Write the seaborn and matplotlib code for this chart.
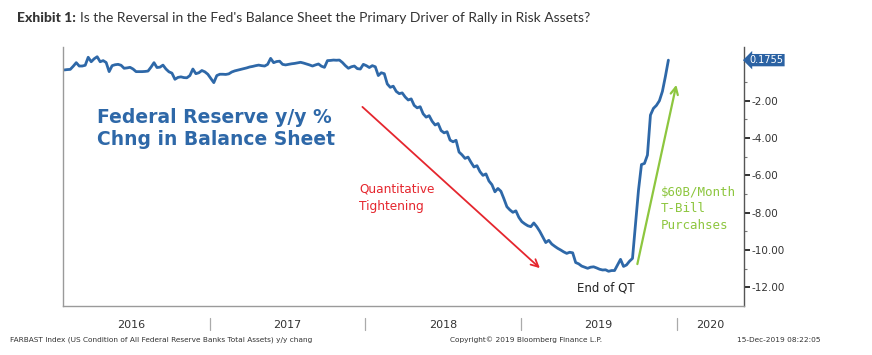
import numpy as np
import pandas as pd
import matplotlib
matplotlib.use("Agg")
import matplotlib.pyplot as plt
import matplotlib.dates as mdates
import matplotlib.transforms as mtransforms
import seaborn as sns

# ---------------- data ----------------
start_date = "2016-01-27"   # weekly (Wednesday) observations
yoy_change = [
    -0.35, -0.33, -0.32, -0.15, 0.04, -0.14, -0.14, -0.10, 0.33, 0.09,
    0.25, 0.36, 0.09, 0.15, 0.05, -0.44, -0.12, -0.07, -0.05, -0.10,
    -0.26, -0.24, -0.21, -0.30, -0.44, -0.44, -0.44, -0.43, -0.41, -0.20,
    0.04, -0.22, -0.20, -0.09, -0.30, -0.45, -0.52, -0.85, -0.75, -0.72,
    -0.76, -0.77, -0.65, -0.30, -0.55, -0.50, -0.38, -0.45, -0.58, -0.80,
    -1.03, -0.65, -0.58, -0.58, -0.59, -0.56, -0.46, -0.40, -0.36, -0.32,
    -0.28, -0.24, -0.19, -0.16, -0.12, -0.09, -0.12, -0.14, -0.05, 0.27,
    0.04, 0.10, 0.12, -0.05, -0.08, -0.05, -0.02, 0.00, 0.03, 0.06,
    0.02, -0.03, -0.08, -0.14, -0.08, -0.03, -0.15, -0.21, 0.15, 0.16,
    0.18, 0.17, 0.18, 0.05, -0.12, -0.26, -0.18, -0.14, -0.28, -0.30,
    -0.05, -0.12, -0.22, -0.12, -0.18, -0.65, -0.50, -0.55, -1.10, -1.28,
    -1.22, -1.50, -1.62, -1.58, -1.80, -1.96, -1.90, -2.25, -2.38, -2.32,
    -2.70, -2.88, -2.80, -3.10, -3.30, -3.22, -3.60, -3.72, -3.66, -4.11,
    -4.20, -4.12, -4.75, -4.90, -5.09, -5.02, -5.30, -5.55, -5.48, -5.80,
    -6.00, -5.92, -6.30, -6.50, -6.88, -6.70, -6.85, -7.25, -7.68, -7.85,
    -7.98, -7.90, -8.25, -8.48, -8.60, -8.70, -8.75, -8.55, -8.75, -9.00,
    -9.30, -9.60, -9.48, -9.68, -9.80, -9.91, -10.00, -10.10, -10.18, -10.12,
    -10.15, -10.67, -10.74, -10.86, -10.92, -10.98, -10.92, -10.90, -10.96, -11.03,
    -11.07, -11.06, -11.14, -11.10, -11.10, -10.80, -10.50, -10.88, -10.80, -10.60,
    -10.45, -8.60, -6.80, -5.42, -5.36, -4.91, -2.77, -2.41, -2.25, -2.00,
    -1.50, -0.70, 0.1755,
]
last_value = 0.1755
year_labels = ["2016", "2017", "2018", "2019", "2020"]
y_ticks = [-2, -4, -6, -8, -10, -12]
y_minor_ticks = [-1, -3, -5, -7, -9, -11]

dates = pd.date_range(start_date, periods=len(yoy_change), freq="7D")
df = pd.DataFrame({"date": dates, "yoy": yoy_change})

# ---------------- style ----------------
sns.set_style("white")
plt.rcParams["font.family"] = ["DejaVu Sans"]

BLUE = "#2e68a8"
RED = "#e5262e"
GREEN = "#8dc63f"
W, H = 872, 355

fig = plt.figure(figsize=(W / 100, H / 100), dpi=100)
ax = fig.add_axes([63 / W, 1 - 306 / H, (744 - 63) / W, (306 - 47) / H])

sns.lineplot(data=df, x="date", y="yoy", ax=ax, color=BLUE, linewidth=2.0)

ax.set_xlim(pd.Timestamp("2016-01-24"), pd.Timestamp("2020-06-05"))
ax.set_ylim(-13.0, 0.88)
ax.set_xlabel("")
ax.set_ylabel("")

# spines
ax.spines["top"].set_visible(False)
for s in ["left", "bottom"]:
    ax.spines[s].set_color("#9a9a9a")
    ax.spines[s].set_linewidth(1.0)
ax.spines["right"].set_color("#555555")
ax.spines["right"].set_linewidth(1.0)

# y axis on right
ax.yaxis.tick_right()
ax.set_yticks(y_ticks)
ax.set_yticklabels([f"{t:.2f}" for t in y_ticks])
ax.set_yticks(y_minor_ticks, minor=True)
ax.tick_params(axis="y", which="major", direction="out", length=4, width=1.3,
               color="#222222", labelsize=7.5, labelcolor="#333333", pad=1.5)
ax.tick_params(axis="y", which="minor", direction="out", length=2, width=0.8,
               color="#777777")
ax.tick_params(axis="y", left=False, which="both")

# x axis: monthly small ticks, no labels
ax.xaxis.set_major_locator(mdates.MonthLocator())
ax.tick_params(axis="x", which="major", direction="out", length=2.5, width=0.8,
               color="#888888", labelbottom=False)

trans = mtransforms.blended_transform_factory(ax.transData, ax.transAxes)
for yl in year_labels[1:]:
    d = mdates.date2num(pd.Timestamp(f"{yl}-01-01"))
    ax.plot([d, d], [-0.046, -0.093], transform=trans, clip_on=False,
            color="#aaaaaa", lw=0.9)
xmax = ax.get_xlim()[1]
for yl in year_labels:
    if yl == year_labels[-1]:
        xc = (mdates.date2num(pd.Timestamp(f"{yl}-01-01")) + xmax) / 2
    else:
        xc = mdates.date2num(pd.Timestamp(f"{yl}-07-01"))
    ax.text(xc, -0.072, yl, transform=trans, ha="center", va="center",
            fontsize=8, color="#333333")

# last value tag
transy = mtransforms.blended_transform_factory(ax.transAxes, ax.transData)
ax.text(1.008, last_value, f"{last_value:.4f}", transform=transy, ha="left",
        va="center", fontsize=7, color="white",
        bbox=dict(boxstyle="larrow,pad=0.12", fc="#2b62a3", ec="none"))

# annotations
ax.text(pd.Timestamp("2016-04-13"), -3.5, "Federal Reserve y/y %\nChng in Balance Sheet",
        color=BLUE, fontsize=13.5, fontweight="bold", ha="left", va="center",
        linespacing=1.2)
ax.annotate("", xy=(pd.Timestamp("2019-02-18"), -11.07),
            xytext=(pd.Timestamp("2017-12-20"), -2.23),
            arrowprops=dict(arrowstyle="->", color=RED, lw=1.3, mutation_scale=13))
ax.text(pd.Timestamp("2017-12-17"), -7.2, "Quantitative\nTightening", color=RED,
        fontsize=8.7, ha="left", va="center", linespacing=1.4)
ax.annotate("", xy=(pd.Timestamp("2019-12-31"), -1.0),
            xytext=(pd.Timestamp("2019-09-28"), -10.9),
            arrowprops=dict(arrowstyle="->", color=GREEN, lw=1.6, mutation_scale=13))
ax.text(pd.Timestamp("2019-11-24"), -7.8, "$60B/Month\nT-Bill\nPurcahses", color=GREEN,
        fontsize=9, family="DejaVu Sans Mono", ha="left", va="center", linespacing=1.35)
ax.text(pd.Timestamp("2019-07-17"), -12.05, "End of QT", color="#222222",
        fontsize=8.5, ha="center", va="center")

# title
renderer = fig.canvas.get_renderer()
t1 = fig.text(17 / W, 1 - 18 / H, "Exhibit 1:", fontsize=10, fontweight="black",
              family="Lato", color="#333333", va="center", ha="left")
bb = t1.get_window_extent(renderer=renderer)
fig.text((bb.x1 + 4) / W, 1 - 18 / H,
         "Is the Reversal in the Fed's Balance Sheet the Primary Driver of Rally in Risk Assets?",
         fontsize=10, family="Lato", color="#333333", va="center", ha="left")

# footer
fig.text(10 / W, 1 - 340 / H,
         "FARBAST Index (US Condition of All Federal Reserve Banks Total Assets) y/y chang",
         fontsize=5.3, color="#333333", va="center", ha="left")
fig.text(526 / W, 1 - 340 / H, "Copyright\u00a9 2019 Bloomberg Finance L.P.",
         fontsize=5.3, color="#333333", va="center", ha="center")
fig.text(779 / W, 1 - 340 / H, "15-Dec-2019 08:22:05",
         fontsize=5.3, color="#333333", va="center", ha="center")

fig.savefig("out.png", dpi=100, facecolor="white")
